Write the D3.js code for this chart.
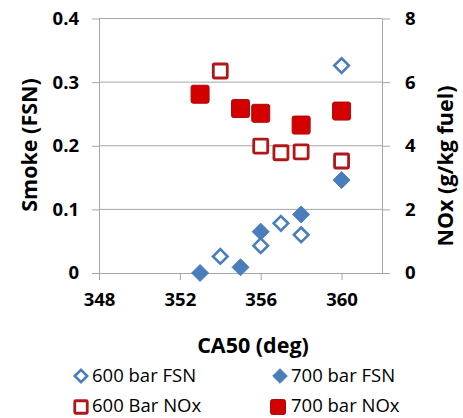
<!DOCTYPE html>
<html>
<head>
<meta charset="utf-8">
<script src="https://cdn.jsdelivr.net/npm/d3@7"></script>
<style>
  html, body { margin: 0; padding: 0; background: #fff; }
  svg { display: block; font-family: "Open Sans", Lato, sans-serif; }
</style>
</head>
<body>
<svg id="chart" width="463" height="418"></svg>
<script>
// CA50 (deg) positions and measured values per series
const fsn600Ca50 = [354, 356, 357, 358, 360];
const fsn600 = [0.026, 0.043, 0.078, 0.060, 0.326];
const fsn700Ca50 = [353, 355, 356, 358, 360];
const fsn700 = [0.0, 0.009, 0.065, 0.092, 0.146];
const nox600Ca50 = [354, 356, 357, 358, 360];
const nox600 = [6.35, 3.99, 3.78, 3.81, 3.52];
const nox700Ca50 = [353, 355, 356, 358, 360];
const nox700 = [5.62, 5.17, 5.02, 4.65, 5.09];

const xTicks = [348, 352, 356, 360];
const smokeTicks = [0, 0.1, 0.2, 0.3, 0.4];
const noxTicks = [0, 2, 4, 6, 8];

const legendLabels = ["600 bar FSN", "700 bar FSN", "600 Bar NOx", "700 bar NOx"];

const blue = "#4a7ebb";
const red = "#d40000";
const redEdge = "#a80c0c";
const grid = "#a6a6a6";
const font = "'Open Sans', Lato, sans-serif";

const svg = d3.select("#chart");

const x = d3.scaleLinear().domain([348, 362]).range([99, 382]);
const ySmoke = d3.scaleLinear().domain([0, 0.4]).range([273, 18.5]);
const yNox = d3.scaleLinear().domain([0, 8]).range([273, 18.5]);

// horizontal gridlines
svg.append("g").selectAll("line").data(smokeTicks.slice(1)).join("line")
  .attr("x1", x.range()[0]).attr("x2", x.range()[1])
  .attr("y1", d => ySmoke(d)).attr("y2", d => ySmoke(d))
  .attr("stroke", grid).attr("stroke-width", 1);

function styleAxis(g) {
  g.select(".domain").attr("stroke", grid).attr("stroke-width", 1);
  g.selectAll(".tick line").attr("stroke", grid).attr("stroke-width", 1);
  g.selectAll(".tick text").attr("fill", "#000").attr("font-size", 18.5)
    .attr("font-weight", "bold").attr("font-family", font);
}

const smokeFmt = d => d === 0 ? "0" : d3.format(".1f")(d);

svg.append("g").attr("transform", `translate(${x.range()[0]},0)`)
  .call(d3.axisLeft(ySmoke).tickValues(smokeTicks).tickFormat(smokeFmt)
    .tickSize(7).tickSizeOuter(0).tickPadding(13))
  .call(styleAxis);

svg.append("g").attr("transform", `translate(${x.range()[1]},0)`)
  .call(d3.axisRight(yNox).tickValues(noxTicks).tickFormat(d3.format("d"))
    .tickSize(8).tickSizeOuter(0).tickPadding(15))
  .call(styleAxis);

svg.append("g").attr("transform", `translate(0,${ySmoke(0)})`)
  .call(d3.axisBottom(x).tickValues(xTicks).tickFormat(d3.format("d"))
    .tickSize(7).tickSizeOuter(0).tickPadding(13))
  .call(styleAxis);

// axis titles
svg.append("text")
  .attr("transform", `translate(37,145) rotate(-90)`)
  .attr("text-anchor", "middle").attr("font-size", 21.5).attr("font-weight", "bold")
  .text("Smoke (FSN)");

svg.append("text")
  .attr("transform", `translate(453,166) rotate(-90)`)
  .attr("text-anchor", "middle").attr("font-size", 21.5).attr("font-weight", "bold")
  .text("NOx (g/kg fuel)");

svg.append("text")
  .attr("x", 253).attr("y", 353)
  .attr("text-anchor", "middle").attr("font-size", 21.5).attr("font-weight", "bold")
  .text("CA50 (deg)");

// marker shapes
function diamond(g, cx, cy, r, filled) {
  g.append("path")
    .attr("d", `M${cx},${cy - r}L${cx + r},${cy}L${cx},${cy + r}L${cx - r},${cy}Z`)
    .attr("fill", filled ? blue : "#fff")
    .attr("stroke", blue)
    .attr("stroke-width", filled ? 1 : 2.6)
    .attr("stroke-linejoin", "miter");
}
function square(g, cx, cy, s, filled) {
  g.append("rect")
    .attr("x", cx - s / 2).attr("y", cy - s / 2)
    .attr("width", s).attr("height", s)
    .attr("rx", filled ? 2 : 1)
    .attr("fill", filled ? red : "#fff")
    .attr("stroke", filled ? redEdge : "#b01818")
    .attr("stroke-width", filled ? 1 : 2.8);
}

const marks = svg.append("g");
fsn700Ca50.forEach((c, i) => diamond(marks, x(c), ySmoke(fsn700[i]), 8.5, true));
fsn600Ca50.forEach((c, i) => diamond(marks, x(c), ySmoke(fsn600[i]), 7.3, false));
nox600Ca50.forEach((c, i) => square(marks, x(c), yNox(nox600[i]), 14, false));
nox700Ca50.forEach((c, i) => square(marks, x(c), yNox(nox700[i]), 18, true));

// legend
const lg = svg.append("g");
const legendPos = [
  {mx: 81, my: 376, tx: 92, ty: 382},
  {mx: 280, my: 376, tx: 291, ty: 382},
  {mx: 81, my: 407, tx: 92, ty: 412},
  {mx: 278, my: 407, tx: 291, ty: 412}
];
diamond(lg, legendPos[0].mx, legendPos[0].my, 6.2, false);
diamond(lg, legendPos[1].mx, legendPos[1].my, 7.3, true);
square(lg, legendPos[2].mx, legendPos[2].my, 12.5, false);
square(lg, legendPos[3].mx, legendPos[3].my, 15, true);
legendLabels.forEach((t, i) => {
  lg.append("text").attr("x", legendPos[i].tx).attr("y", legendPos[i].ty)
    .attr("font-size", 18.5).attr("fill", "#000").text(t);
});
</script>
</body>
</html>
